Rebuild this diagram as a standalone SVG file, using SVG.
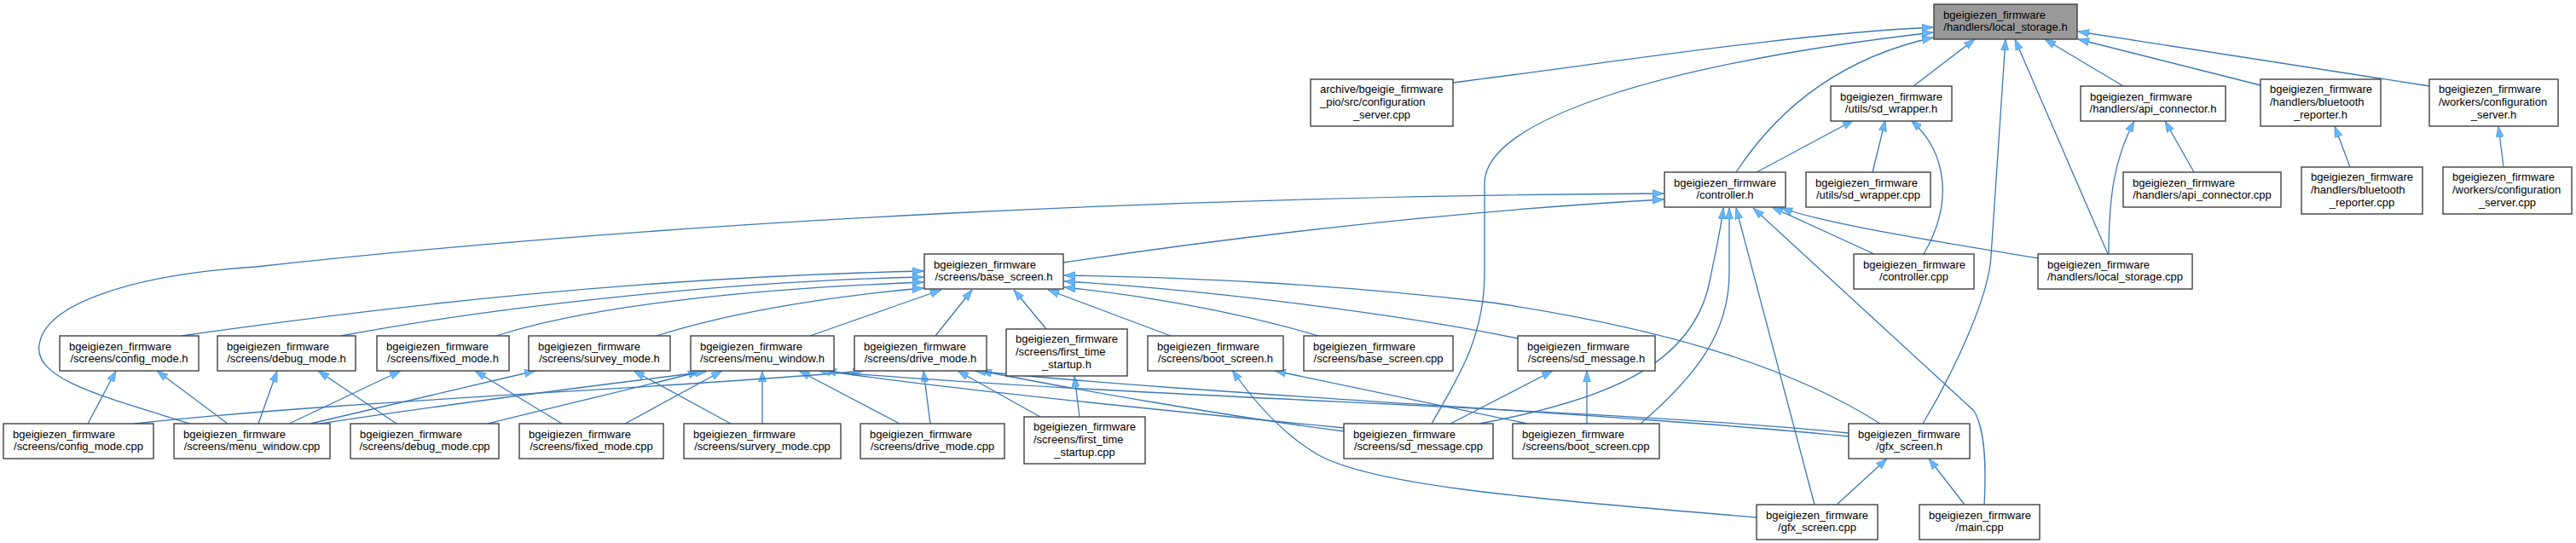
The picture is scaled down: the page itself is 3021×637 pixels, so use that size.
<svg xmlns="http://www.w3.org/2000/svg" width="3021" height="637" viewBox="0 0 3021 637">
<style>
.b{fill:#ffffff;stroke:#404040;stroke-width:1.4}
.r{fill:#999999;stroke:#404040;stroke-width:1.4}
text{font-family:"Liberation Sans",Arial,Helvetica,sans-serif;font-size:13px;fill:#000}
.c{text-anchor:middle}
.e{fill:none;stroke:#3b78b6;stroke-width:1.3;marker-end:url(#ah)}
</style>
<defs>
<marker id="ah" viewBox="0 0 13 10" refX="13" refY="5" markerWidth="13" markerHeight="10" markerUnits="userSpaceOnUse" orient="auto"><path d="M0,0.5 L13,5 L0,9.5 Z" fill="#63b8ff" stroke="#3f7fc0" stroke-width="0.6"/></marker>
</defs>
<rect x="0" y="0" width="3021" height="637" fill="#ffffff"/>
<g id="edges">
<path class="e" d="M1704,97 C1900,72 2100,40 2267,32"/>
<path class="e" d="M1679,497 C1705,450 1741,400 1741,320 L1741,215 C1741,140 1950,75 2267,38"/>
<path class="e" d="M2036,202 C2080,135 2150,70 2267,44"/>
<path class="e" d="M2244,101 L2316,46"/>
<path class="e" d="M2255,497 C2295,430 2333,345 2335,300 L2352,46"/>
<path class="e" d="M2472,298 L2363,46"/>
<path class="e" d="M2490,101 L2398,46"/>
<path class="e" d="M2651,100 L2437,46"/>
<path class="e" d="M2849,101 L2437,37"/>
<path class="e" d="M2060,202 L2174,141"/>
<path class="e" d="M2196,202 L2211,141"/>
<path class="e" d="M2256,298 C2290,240 2285,180 2241,141"/>
<path class="e" d="M223,497 C120,465 40,445 46,405 C52,355 160,322 300,313 C800,258 1400,230 1951,227"/>
<path class="e" d="M1247,308 C1500,270 1750,245 1951,234"/>
<path class="e" d="M2198,298 L2078,243"/>
<path class="e" d="M2391,303 C2300,288 2150,265 2089,244"/>
<path class="e" d="M1735,497 C1880,470 1985,430 2005,330 C2012,295 2018,270 2021,244"/>
<path class="e" d="M1924,497 C1990,440 2028,390 2028,320 L2028,244"/>
<path class="e" d="M2128,592 L2036,244"/>
<path class="e" d="M2327,592 C2330,540 2326,500 2315,482 L2056,244"/>
<path class="e" d="M2154,592 L2213,538"/>
<path class="e" d="M2304,592 L2262,538"/>
<path class="e" d="M2205,497 C2100,430 1950,385 1750,355 C1550,332 1400,326 1248,323"/>
<path class="e" d="M1780,397 C1650,370 1420,340 1248,330"/>
<path class="e" d="M1546,394 C1450,365 1330,345 1248,337"/>
<path class="e" d="M213,394 C450,360 750,325 1083,318"/>
<path class="e" d="M400,394 C580,360 850,330 1083,325"/>
<path class="e" d="M582,394 C700,356 900,338 1083,331"/>
<path class="e" d="M770,394 C870,362 1000,345 1083,338"/>
<path class="e" d="M950,394 L1104,340"/>
<path class="e" d="M1097,394 L1140,340"/>
<path class="e" d="M1227,386 L1189,340"/>
<path class="e" d="M1373,394 L1229,340"/>
<path class="e" d="M103,497 L136,435"/>
<path class="e" d="M267,497 L184,435"/>
<path class="e" d="M303,497 L325,435"/>
<path class="e" d="M465,497 L373,435"/>
<path class="e" d="M339,497 L470,435"/>
<path class="e" d="M659,497 L557,435"/>
<path class="e" d="M364,497 L628,435"/>
<path class="e" d="M857,497 L743,435"/>
<path class="e" d="M894,497 L894,435"/>
<path class="e" d="M1055,497 L937,435"/>
<path class="e" d="M733,497 L847,435"/>
<path class="e" d="M1091,497 L1083,435"/>
<path class="e" d="M1220,489 L1123,435"/>
<path class="e" d="M1266,489 L1260,441"/>
<path class="e" d="M572,497 C680,470 760,452 820,436"/>
<path class="e" d="M376,497 C550,470 720,450 828,436"/>
<path class="e" d="M158,497 C400,470 800,455 1013,435"/>
<path class="e" d="M1576,502 C1400,485 1100,455 968,435"/>
<path class="e" d="M1576,506 C1450,490 1250,455 1150,435"/>
<path class="e" d="M2168,508 C1900,480 1300,465 960,435"/>
<path class="e" d="M2168,512 C1900,485 1400,462 1143,435"/>
<path class="e" d="M2060,607 C1800,585 1600,570 1540,530 C1500,505 1470,470 1445,434"/>
<path class="e" d="M1791,497 L1495,435"/>
<path class="e" d="M1701,497 L1821,435"/>
<path class="e" d="M1861,497 L1861,435"/>
<path class="e" d="M2473,298 C2473,230 2480,185 2503,142"/>
<path class="e" d="M2573,202 L2539,142"/>
<path class="e" d="M2756,196 L2738,148"/>
<path class="e" d="M2936,196 L2930,148"/>
</g>
<g id="n_local_storage_h"><rect class="r" x="2268" y="5" width="168" height="41"/><text x="2279" y="21.5">bgeigiezen_firmware</text><text class="c" x="2352" y="36.3">/handlers/local_storage.h</text></g>
<g id="n_archive_configuration_server_cpp"><rect class="b" x="1537" y="93" width="167" height="55"/><text x="1548" y="109.3">archive/bgeigie_firmware</text><text x="1548" y="124">_pio/src/configuration</text><text class="c" x="1620.5" y="138.7">_server.cpp</text></g>
<g id="n_sd_wrapper_h"><rect class="b" x="2147" y="101" width="142" height="41"/><text x="2158" y="117.5">bgeigiezen_firmware</text><text class="c" x="2218" y="132.3">/utils/sd_wrapper.h</text></g>
<g id="n_api_connector_h"><rect class="b" x="2440" y="101" width="170" height="41"/><text x="2451" y="117.5">bgeigiezen_firmware</text><text class="c" x="2525" y="132.3">/handlers/api_connector.h</text></g>
<g id="n_bluetooth_reporter_h"><rect class="b" x="2651" y="93" width="141" height="55"/><text x="2662" y="109.3">bgeigiezen_firmware</text><text x="2662" y="124">/handlers/bluetooth</text><text class="c" x="2721.5" y="138.7">_reporter.h</text></g>
<g id="n_workers_configuration_server_h"><rect class="b" x="2849" y="93" width="151" height="55"/><text x="2860" y="109.3">bgeigiezen_firmware</text><text x="2860" y="124">/workers/configuration</text><text class="c" x="2924.5" y="138.7">_server.h</text></g>
<g id="n_controller_h"><rect class="b" x="1952" y="202" width="142" height="41"/><text x="1963" y="218.5">bgeigiezen_firmware</text><text class="c" x="2023" y="233.3">/controller.h</text></g>
<g id="n_sd_wrapper_cpp"><rect class="b" x="2118" y="202" width="146" height="41"/><text x="2129" y="218.5">bgeigiezen_firmware</text><text class="c" x="2191" y="233.3">/utils/sd_wrapper.cpp</text></g>
<g id="n_api_connector_cpp"><rect class="b" x="2490" y="202" width="185" height="41"/><text x="2501" y="218.5">bgeigiezen_firmware</text><text class="c" x="2582.5" y="233.3">/handlers/api_connector.cpp</text></g>
<g id="n_bluetooth_reporter_cpp"><rect class="b" x="2699" y="196" width="142" height="55"/><text x="2710" y="212.3">bgeigiezen_firmware</text><text x="2710" y="227">/handlers/bluetooth</text><text class="c" x="2770" y="241.7">_reporter.cpp</text></g>
<g id="n_workers_configuration_server_cpp"><rect class="b" x="2865" y="196" width="151" height="55"/><text x="2876" y="212.3">bgeigiezen_firmware</text><text x="2876" y="227">/workers/configuration</text><text class="c" x="2940.5" y="241.7">_server.cpp</text></g>
<g id="n_base_screen_h"><rect class="b" x="1084" y="298" width="163" height="41"/><text x="1095" y="314.5">bgeigiezen_firmware</text><text class="c" x="1165.5" y="329.3">/screens/base_screen.h</text></g>
<g id="n_controller_cpp"><rect class="b" x="2174" y="298" width="141" height="41"/><text x="2185" y="314.5">bgeigiezen_firmware</text><text class="c" x="2244.5" y="329.3">/controller.cpp</text></g>
<g id="n_local_storage_cpp"><rect class="b" x="2390" y="298" width="181" height="41"/><text x="2401" y="314.5">bgeigiezen_firmware</text><text class="c" x="2480.5" y="329.3">/handlers/local_storage.cpp</text></g>
<g id="n_config_mode_h"><rect class="b" x="70" y="394" width="163" height="41"/><text x="81" y="410.5">bgeigiezen_firmware</text><text class="c" x="151.5" y="425.3">/screens/config_mode.h</text></g>
<g id="n_debug_mode_h"><rect class="b" x="255" y="394" width="162" height="41"/><text x="266" y="410.5">bgeigiezen_firmware</text><text class="c" x="336" y="425.3">/screens/debug_mode.h</text></g>
<g id="n_fixed_mode_h"><rect class="b" x="442" y="394" width="155" height="41"/><text x="453" y="410.5">bgeigiezen_firmware</text><text class="c" x="519.5" y="425.3">/screens/fixed_mode.h</text></g>
<g id="n_survey_mode_h"><rect class="b" x="620" y="394" width="166" height="41"/><text x="631" y="410.5">bgeigiezen_firmware</text><text class="c" x="703" y="425.3">/screens/survey_mode.h</text></g>
<g id="n_menu_window_h"><rect class="b" x="810" y="394" width="168" height="41"/><text x="821" y="410.5">bgeigiezen_firmware</text><text class="c" x="894" y="425.3">/screens/menu_window.h</text></g>
<g id="n_drive_mode_h"><rect class="b" x="1002" y="394" width="155" height="41"/><text x="1013" y="410.5">bgeigiezen_firmware</text><text class="c" x="1079.5" y="425.3">/screens/drive_mode.h</text></g>
<g id="n_first_time_startup_h"><rect class="b" x="1180" y="386" width="142" height="55"/><text x="1191" y="402.3">bgeigiezen_firmware</text><text x="1191" y="417">/screens/first_time</text><text class="c" x="1251" y="431.7">_startup.h</text></g>
<g id="n_boot_screen_h"><rect class="b" x="1346" y="394" width="159" height="41"/><text x="1357" y="410.5">bgeigiezen_firmware</text><text class="c" x="1425.5" y="425.3">/screens/boot_screen.h</text></g>
<g id="n_base_screen_cpp"><rect class="b" x="1529" y="394" width="175" height="41"/><text x="1540" y="410.5">bgeigiezen_firmware</text><text class="c" x="1616.5" y="425.3">/screens/base_screen.cpp</text></g>
<g id="n_sd_message_h"><rect class="b" x="1780" y="394" width="161" height="41"/><text x="1791" y="410.5">bgeigiezen_firmware</text><text class="c" x="1860.5" y="425.3">/screens/sd_message.h</text></g>
<g id="n_config_mode_cpp"><rect class="b" x="4" y="497" width="176" height="41"/><text x="15" y="513.5">bgeigiezen_firmware</text><text class="c" x="92" y="528.3">/screens/config_mode.cpp</text></g>
<g id="n_menu_window_cpp"><rect class="b" x="204" y="497" width="183" height="41"/><text x="215" y="513.5">bgeigiezen_firmware</text><text class="c" x="295.5" y="528.3">/screens/menu_window.cpp</text></g>
<g id="n_debug_mode_cpp"><rect class="b" x="411" y="497" width="174" height="41"/><text x="422" y="513.5">bgeigiezen_firmware</text><text class="c" x="498" y="528.3">/screens/debug_mode.cpp</text></g>
<g id="n_fixed_mode_cpp"><rect class="b" x="609" y="497" width="169" height="41"/><text x="620" y="513.5">bgeigiezen_firmware</text><text class="c" x="693.5" y="528.3">/screens/fixed_mode.cpp</text></g>
<g id="n_survery_mode_cpp"><rect class="b" x="802" y="497" width="184" height="41"/><text x="813" y="513.5">bgeigiezen_firmware</text><text class="c" x="894" y="528.3">/screens/survery_mode.cpp</text></g>
<g id="n_drive_mode_cpp"><rect class="b" x="1009" y="497" width="169" height="41"/><text x="1020" y="513.5">bgeigiezen_firmware</text><text class="c" x="1093.5" y="528.3">/screens/drive_mode.cpp</text></g>
<g id="n_first_time_startup_cpp"><rect class="b" x="1201" y="489" width="142" height="55"/><text x="1212" y="505.3">bgeigiezen_firmware</text><text x="1212" y="520">/screens/first_time</text><text class="c" x="1272" y="534.7">_startup.cpp</text></g>
<g id="n_sd_message_cpp"><rect class="b" x="1576" y="497" width="175" height="41"/><text x="1587" y="513.5">bgeigiezen_firmware</text><text class="c" x="1663.5" y="528.3">/screens/sd_message.cpp</text></g>
<g id="n_boot_screen_cpp"><rect class="b" x="1774" y="497" width="172" height="41"/><text x="1785" y="513.5">bgeigiezen_firmware</text><text class="c" x="1860" y="528.3">/screens/boot_screen.cpp</text></g>
<g id="n_gfx_screen_h"><rect class="b" x="2168" y="497" width="142" height="41"/><text x="2179" y="513.5">bgeigiezen_firmware</text><text class="c" x="2239" y="528.3">/gfx_screen.h</text></g>
<g id="n_gfx_screen_cpp"><rect class="b" x="2060" y="592" width="142" height="41"/><text x="2071" y="608.5">bgeigiezen_firmware</text><text class="c" x="2131" y="623.3">/gfx_screen.cpp</text></g>
<g id="n_main_cpp"><rect class="b" x="2251" y="592" width="141" height="41"/><text x="2262" y="608.5">bgeigiezen_firmware</text><text class="c" x="2321.5" y="623.3">/main.cpp</text></g>
</svg>
